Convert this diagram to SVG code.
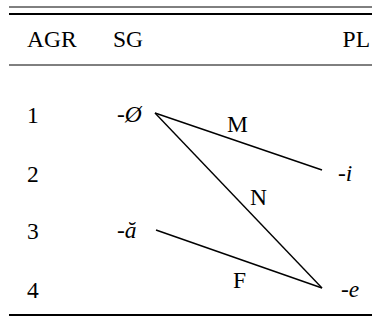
<svg xmlns="http://www.w3.org/2000/svg" width="378" height="320" viewBox="0 0 378 320">
<style>
.it{font-style:italic}
.conn line{stroke:#000;stroke-width:1.4}
</style>
<rect width="378" height="320" fill="#fff"/>
<g id="rules" stroke="#000">
<line x1="9" y1="7" x2="372" y2="7" stroke-width="1"/>
<line x1="9" y1="14" x2="372" y2="14" stroke-width="2"/>
<line x1="9" y1="65" x2="372" y2="65" stroke-width="1"/>
<line x1="9" y1="315" x2="372" y2="315" stroke-width="2"/>
</g>
<g font-family="Liberation Serif, serif" font-size="23.5" fill="#000">
<g id="header">
<text x="27" y="47">AGR</text>
<text x="113" y="47">SG</text>
<text x="370" y="47" text-anchor="end">PL</text>
</g>
<g id="rows">
<text x="27" y="123">1</text>
<text x="27" y="182">2</text>
<text x="27" y="239">3</text>
<text x="27" y="298">4</text>
</g>
<g id="sg-zero"><text font-style="italic" x="117" y="122">-Ø</text></g>
<g id="sg-a"><text font-style="italic" x="117" y="238">-ă</text></g>
<g id="pl-i"><text font-style="italic" x="338" y="181">-i</text></g>
<g id="pl-e"><text font-style="italic" x="341" y="297">-e</text></g>
<g id="labels">
<text x="227" y="132">M</text>
<text x="250" y="205">N</text>
<text x="233" y="288">F</text>
</g>
</g>
<g class="conn" id="connectors">
<line x1="155" y1="113" x2="322" y2="170"/>
<line x1="155" y1="113" x2="322" y2="288"/>
<line x1="156" y1="230" x2="322" y2="288"/>
</g>
</svg>
